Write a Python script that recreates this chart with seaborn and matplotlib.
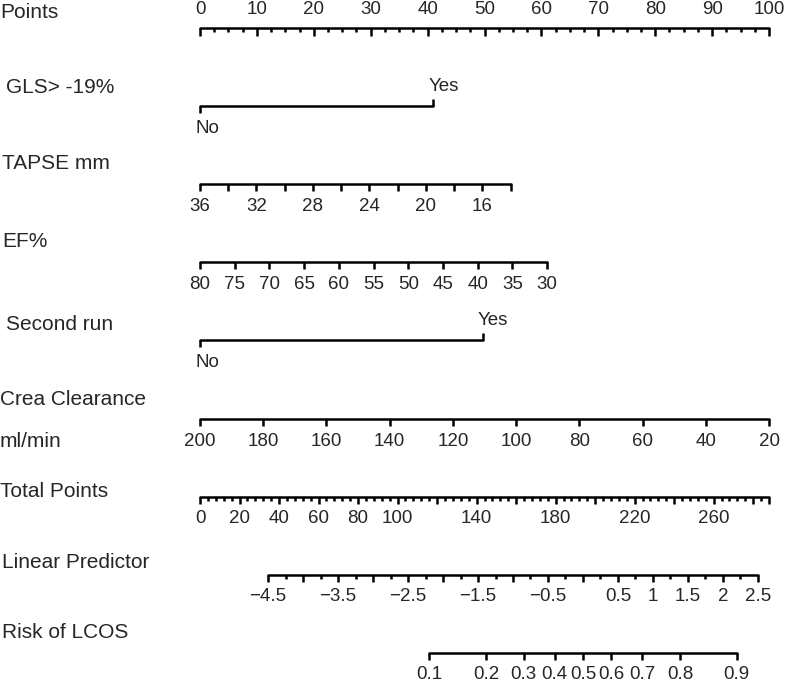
import numpy as np
import pandas as pd
import matplotlib
matplotlib.use("Agg")
import matplotlib.pyplot as plt
import seaborn as sns

# ---- nomogram data ----
points_major = [0, 10, 20, 30, 40, 50, 60, 70, 80, 90, 100]

gls_levels = ["No", "Yes"]
gls_points = [0, 41]

tapse_values = [36, 34, 32, 30, 28, 26, 24, 22, 20, 18, 16, 14]
tapse_labels = [36, 32, 28, 24, 20, 16]
tapse_range = [36, 14]
tapse_points = [0, 54.6]

ef_values = [80, 75, 70, 65, 60, 55, 50, 45, 40, 35, 30]
ef_range = [80, 30]
ef_points = [0, 61]

run_levels = ["No", "Yes"]
run_points = [0, 49.7]

crea_values = [200, 180, 160, 140, 120, 100, 80, 60, 40, 20]
crea_range = [200, 20]
crea_points = [0, 100]

total_max = 288
total_labels = [0, 20, 40, 60, 80, 100, 140, 180, 220, 260]

lp_values = [-4.5, -4, -3.5, -3, -2.5, -2, -1.5, -1, -0.5, 0, 0.5, 1, 1.5, 2, 2.5]
lp_labels = [-4.5, -3.5, -2.5, -1.5, -0.5, 0.5, 1, 1.5, 2, 2.5]
lp_at_zero = -5.474     # linear predictor at 0 total points
lp_per_point = 0.02824

risk_values = [0.1, 0.2, 0.3, 0.4, 0.5, 0.6, 0.7, 0.8, 0.9]

row_names = ["Points", "GLS> -19%", "TAPSE mm", "EF%", "Second run",
             "Crea Clearance", "Total Points", "Linear Predictor", "Risk of LCOS"]

# ---- layout ----
W, H = 786, 685
X0_PX, PX_PER_PT = 200, 5.69      # points scale: 0 -> 200 px, 100 -> 769 px
Y0_PX, ROW_PX = 28, 78.1          # first axis line and row spacing (px)
LW = 1.8
TXT = 15
TICK = 13.5

sns.set_style("white")
plt.rcParams["font.family"] = ["Liberation Sans", "DejaVu Sans"]

fig = plt.figure(figsize=(W / 100, H / 100), dpi=100)
ax = fig.add_axes([0, 0, 1, 1])

def py(px):
    # pixel length -> row units
    return px / ROW_PX

def lin(v, vrange, prange):
    if vrange[0] > vrange[1]:
        return np.interp(v, vrange[::-1], prange[::-1])
    return np.interp(v, vrange, prange)

def total_to_x(t):
    return np.asarray(t) * 100.0 / total_max

def lp_to_x(lp):
    return total_to_x((np.asarray(lp) - lp_at_zero) / lp_per_point)

# axis base lines, drawn through seaborn at the end
segs = []
def add_line(row, xa, xb):
    segs.append({"axis": row, "x": xa, "y": row})
    segs.append({"axis": row, "x": xb, "y": row})

def ticks(row, xs, length, up=False):
    d = -py(length) if up else py(length)
    ax.vlines(xs, row, row + d, color="black", lw=LW)

def tick_labels(row, xs, labels, above=False, off=22):
    yy = row + (-py(off) if above else py(off))
    for x, lab in zip(xs, labels):
        ax.text(x, yy, lab, ha="center", va="center", fontsize=TICK)

def fmt(v):
    return f"{v:g}".replace("-", "\u2212")

# row labels
label_off = [-16, -19, -21, -21, -16, -19, -5, -12, -20]
label_x = [0, 6, 2, 2, 6, 0, 0, 2, 2]
for r, (name, off, lx) in enumerate(zip(row_names, label_off, label_x)):
    ax.text(-X0_PX / PX_PER_PT + lx / PX_PER_PT, r + py(off), name,
            ha="left", va="center", fontsize=TXT)
ax.text(-X0_PX / PX_PER_PT, 5 + py(23), "ml/min", ha="left", va="center", fontsize=TXT)

# Points
add_line(0, 0, 100)
ticks(0, points_major, 8)
ticks(0, [v for v in np.arange(0, 100, 2.5) if v % 10], 4)
tick_labels(0, points_major, [fmt(v) for v in points_major], above=True, off=19)

# GLS and second run (binary)
for row, pts, levels in [(1, gls_points, gls_levels), (4, run_points, run_levels)]:
    add_line(row, pts[0], pts[1])
    ticks(row, [pts[0]], 7)
    ticks(row, [pts[1]], 7, up=True)
    ax.text(pts[0] - 5 / PX_PER_PT, row + py(22), levels[0], ha="left", va="center", fontsize=TICK)
    ax.text(pts[1] - 5 / PX_PER_PT, row - py(20), levels[1], ha="left", va="center", fontsize=TICK)

# TAPSE
tx = lin(tapse_values, tapse_range, tapse_points)
add_line(2, tx.min(), tx.max())
ticks(2, tx, 7)
tick_labels(2, lin(tapse_labels, tapse_range, tapse_points), [fmt(v) for v in tapse_labels])

# EF
ex = lin(ef_values, ef_range, ef_points)
add_line(3, ex.min(), ex.max())
ticks(3, ex, 7)
tick_labels(3, ex, [fmt(v) for v in ef_values])

# Crea clearance
cx = lin(crea_values, crea_range, crea_points)
add_line(5, cx.min(), cx.max())
ticks(5, cx, 7)
tick_labels(5, cx, [fmt(v) for v in crea_values], off=23)

# Total points
add_line(6, 0, total_to_x(total_max))
major_t = list(range(0, total_max, 20)) + [total_max]
minor_t = [v for v in np.arange(0, total_max, 4) if v % 20]
ticks(6, total_to_x(major_t), 7)
ticks(6, total_to_x(minor_t), 4)
tick_labels(6, total_to_x(total_labels), [fmt(v) for v in total_labels])

# Linear predictor
lx = lp_to_x(lp_values)
add_line(7, lx.min(), lx.max())
ticks(7, lx, 7)
ticks(7, lp_to_x(np.array(lp_values[:-1]) + 0.25), 4)
tick_labels(7, lp_to_x(lp_labels), [fmt(v) for v in lp_labels])

# Risk
rv = np.array(risk_values)
rx = lp_to_x(np.log(rv / (1 - rv)))
add_line(8, rx.min(), rx.max())
ticks(8, rx, 7)
tick_labels(8, rx, [fmt(v) for v in risk_values])

df = pd.DataFrame(segs)
sns.lineplot(data=df, x="x", y="y", units="axis", estimator=None, sort=False,
             color="black", lw=LW, ax=ax, legend=False)
ax.set_xlim(-X0_PX / PX_PER_PT, (W - X0_PX) / PX_PER_PT)
ax.set_ylim((H - Y0_PX) / ROW_PX, -Y0_PX / ROW_PX)
ax.axis("off")

fig.savefig("out.png", dpi=100, facecolor="white")
